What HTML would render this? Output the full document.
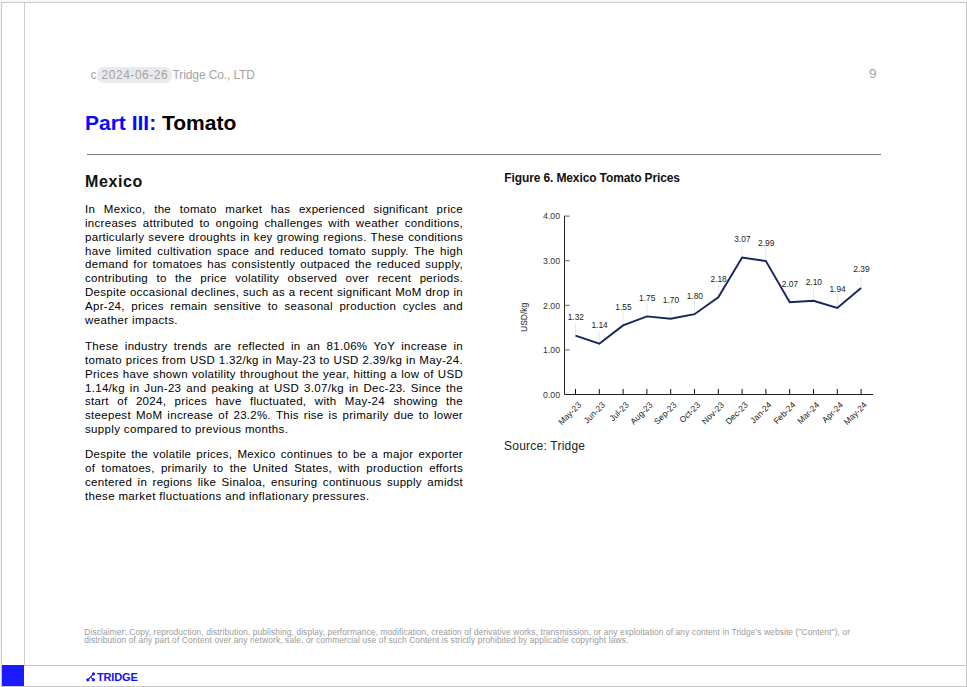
<!DOCTYPE html>
<html>
<head>
<meta charset="utf-8">
<style>
html,body{margin:0;padding:0;}
body{width:967px;height:687px;background:#f7f7f7;position:relative;overflow:hidden;font-family:"Liberation Sans",sans-serif;}
.page{position:absolute;left:1px;top:2px;width:964px;height:683px;border:1px solid #c8c8c8;background:#fff;}
.vline{position:absolute;left:24px;top:3px;width:1px;height:662px;background:#cbd0d8;}
.hline{position:absolute;left:24px;top:665px;width:942px;height:1px;background:#c3c8d0;}
.blue{position:absolute;left:2px;top:665px;width:22px;height:21px;background:#1a1aff;}
.abs{position:absolute;white-space:nowrap;}
.hdr{font-size:12px;line-height:12px;color:#a4a4a4;}
.pill{position:absolute;left:97.4px;top:67.1px;width:74.6px;height:15.8px;background:#e8eaed;border-radius:7px;}
.title{font-size:21px;line-height:21px;font-weight:bold;color:#000;}
.hr{position:absolute;left:87px;top:154px;width:794px;height:1px;background:#7a7a7a;}
.h2{font-size:16px;line-height:16px;font-weight:bold;color:#111;letter-spacing:0.6px;}
.body{position:absolute;left:85px;width:378px;font-size:11.5px;line-height:13.85px;letter-spacing:0.3px;color:#000;}
.body div{text-align:justify;text-align-last:justify;white-space:nowrap;}
.body div.l{text-align:left;text-align-last:left;}
.disc{position:absolute;left:84.3px;font-size:8.4px;line-height:8px;color:#9a9a9a;white-space:nowrap;}
.logo{position:absolute;left:97px;top:672px;font-size:11px;line-height:11px;font-weight:bold;letter-spacing:-0.15px;color:#1010ff;}
</style>
</head>
<body>
<div class="page"></div>
<div class="vline"></div>
<div class="hline"></div>
<div class="blue"></div>

<div class="pill"></div>
<div class="abs hdr" style="left:90.5px;top:69px;">c</div>
<div class="abs hdr" style="left:101.5px;top:69px;letter-spacing:0.54px;">2024-06-26</div>
<div class="abs hdr" style="left:172.6px;top:69px;letter-spacing:-0.12px;">Tridge Co., LTD</div>
<div class="abs hdr" style="left:869.3px;top:68.3px;transform:scaleX(1.12);transform-origin:0 0;">9</div>

<div class="abs title" style="left:85px;top:111.5px;"><span style="color:#0808ff">Part III:</span> Tomato</div>
<div class="hr"></div>

<div class="abs h2" style="left:85px;top:174px;">Mexico</div>

<div class="body" style="top:203px;">
<div>In Mexico, the tomato market has experienced significant price</div>
<div>increases attributed to ongoing challenges with weather conditions,</div>
<div>particularly severe droughts in key growing regions. These conditions</div>
<div>have limited cultivation space and reduced tomato supply. The high</div>
<div>demand for tomatoes has consistently outpaced the reduced supply,</div>
<div>contributing to the price volatility observed over recent periods.</div>
<div>Despite occasional declines, such as a recent significant MoM drop in</div>
<div>Apr-24, prices remain sensitive to seasonal production cycles and</div>
<div class="l" style="letter-spacing:0.37px">weather impacts.</div>
</div>

<div class="body" style="top:340px;">
<div>These industry trends are reflected in an 81.06% YoY increase in</div>
<div>tomato prices from USD 1.32/kg in May-23 to USD 2.39/kg in May-24.</div>
<div>Prices have shown volatility throughout the year, hitting a low of USD</div>
<div>1.14/kg in Jun-23 and peaking at USD 3.07/kg in Dec-23. Since the</div>
<div>start of 2024, prices have fluctuated, with May-24 showing the</div>
<div>steepest MoM increase of 23.2%. This rise is primarily due to lower</div>
<div class="l" style="letter-spacing:0.345px">supply compared to previous months.</div>
</div>

<div class="body" style="top:448px;">
<div>Despite the volatile prices, Mexico continues to be a major exporter</div>
<div>of tomatoes, primarily to the United States, with production efforts</div>
<div>centered in regions like Sinaloa, ensuring continuous supply amidst</div>
<div class="l" style="letter-spacing:0.35px">these market fluctuations and inflationary pressures.</div>
</div>

<div class="abs" style="left:504.3px;top:172px;font-size:12px;line-height:12px;font-weight:bold;letter-spacing:-0.12px;color:#111;">Figure 6. Mexico Tomato Prices</div>
<div class="abs" style="left:504px;top:439.5px;font-size:12px;line-height:12px;letter-spacing:0.23px;color:#222;">Source: Tridge</div>

<!-- CHART START -->
<svg class="abs" style="left:0;top:0;" width="967" height="687" font-family="Liberation Sans, sans-serif">
<g stroke="#e9e9e9" stroke-width="1">
<line x1="575.5" y1="322.6" x2="575.5" y2="335.6"/>
<line x1="599.3" y1="330.7" x2="599.3" y2="343.7"/>
<line x1="623.1" y1="312.4" x2="623.1" y2="325.4"/>
<line x1="646.9" y1="303.4" x2="646.9" y2="316.4"/>
<line x1="670.7" y1="305.7" x2="670.7" y2="318.7"/>
<line x1="694.5" y1="301.2" x2="694.5" y2="314.2"/>
<line x1="718.3" y1="284.3" x2="718.3" y2="297.3"/>
<line x1="742.1" y1="244.6" x2="742.1" y2="257.6"/>
<line x1="765.9" y1="248.1" x2="765.9" y2="261.1"/>
<line x1="789.7" y1="289.2" x2="789.7" y2="302.2"/>
<line x1="813.5" y1="287.8" x2="813.5" y2="300.8"/>
<line x1="837.3" y1="295.0" x2="837.3" y2="308.0"/>
<line x1="861.1" y1="274.9" x2="861.1" y2="287.9"/>
</g>
<g stroke="#222" stroke-width="1" fill="none">
<path d="M564.5 215.6V394.5H873"/>
</g><g stroke="#666" stroke-width="1">
<line x1="564.5" y1="349.9" x2="569.7" y2="349.9"/>
<line x1="564.5" y1="305.3" x2="569.7" y2="305.3"/>
<line x1="564.5" y1="260.7" x2="569.7" y2="260.7"/>
<line x1="564.5" y1="216.1" x2="569.7" y2="216.1"/>
</g><g stroke="#111" stroke-width="1">
<line x1="575.5" y1="389" x2="575.5" y2="394.5"/>
<line x1="599.3" y1="389" x2="599.3" y2="394.5"/>
<line x1="623.1" y1="389" x2="623.1" y2="394.5"/>
<line x1="646.9" y1="389" x2="646.9" y2="394.5"/>
<line x1="670.7" y1="389" x2="670.7" y2="394.5"/>
<line x1="694.5" y1="389" x2="694.5" y2="394.5"/>
<line x1="718.3" y1="389" x2="718.3" y2="394.5"/>
<line x1="742.1" y1="389" x2="742.1" y2="394.5"/>
<line x1="765.9" y1="389" x2="765.9" y2="394.5"/>
<line x1="789.7" y1="389" x2="789.7" y2="394.5"/>
<line x1="813.5" y1="389" x2="813.5" y2="394.5"/>
<line x1="837.3" y1="389" x2="837.3" y2="394.5"/>
<line x1="861.1" y1="389" x2="861.1" y2="394.5"/>
</g>
<g font-size="8.7" fill="#333" text-anchor="end">
<text x="560" y="397.7">0.00</text>
<text x="560" y="353.1">1.00</text>
<text x="560" y="308.5">2.00</text>
<text x="560" y="263.9">3.00</text>
<text x="560" y="219.3">4.00</text>
</g>
<text font-size="8.5" fill="#222" text-anchor="middle" transform="translate(527.2 317.3) rotate(-90) scale(1 1.1)">USD/kg</text>
<polyline points="575.5,335.6 599.3,343.7 623.1,325.4 646.9,316.4 670.7,318.7 694.5,314.2 718.3,297.3 742.1,257.6 765.9,261.1 789.7,302.2 813.5,300.8 837.3,308.0 861.1,287.9" fill="none" stroke="#15265a" stroke-width="1.9" stroke-linejoin="miter"/>
<g font-size="8.4" fill="#222" text-anchor="middle">
<text x="575.8" y="320.0">1.32</text>
<text x="599.6" y="328.1">1.14</text>
<text x="623.4" y="309.8">1.55</text>
<text x="647.2" y="300.8">1.75</text>
<text x="671.0" y="303.1">1.70</text>
<text x="694.8" y="298.6">1.80</text>
<text x="718.6" y="281.7">2.18</text>
<text x="742.4" y="242.0">3.07</text>
<text x="766.2" y="245.5">2.99</text>
<text x="790.0" y="286.6">2.07</text>
<text x="813.8" y="285.2">2.10</text>
<text x="837.6" y="292.4">1.94</text>
<text x="861.4" y="272.3">2.39</text>
</g>
<g font-size="8.5" fill="#222" text-anchor="end">
<text transform="translate(581.8 405.5) rotate(-45)">May-23</text>
<text transform="translate(605.6 405.5) rotate(-45)">Jun-23</text>
<text transform="translate(629.4 405.5) rotate(-45)">Jul-23</text>
<text transform="translate(653.2 405.5) rotate(-45)">Aug-23</text>
<text transform="translate(677.0 405.5) rotate(-45)">Sep-23</text>
<text transform="translate(700.8 405.5) rotate(-45)">Oct-23</text>
<text transform="translate(724.6 405.5) rotate(-45)">Nov-23</text>
<text transform="translate(748.4 405.5) rotate(-45)">Dec-23</text>
<text transform="translate(772.2 405.5) rotate(-45)">Jan-24</text>
<text transform="translate(796.0 405.5) rotate(-45)">Feb-24</text>
<text transform="translate(819.8 405.5) rotate(-45)">Mar-24</text>
<text transform="translate(843.6 405.5) rotate(-45)">Apr-24</text>
<text transform="translate(867.4 405.5) rotate(-45)">May-24</text>
</g>
</svg>
<!-- CHART END -->

<div class="disc" style="top:628.1px;letter-spacing:0.104px;">Disclaimer: Copy, reproduction, distribution, publishing, display, performance, modification, creation of derivative works, transmission, or any exploitation of any content in Tridge's website ("Content"), or</div>
<div class="disc" style="top:636.1px;letter-spacing:0.124px;">distribution of any part of Content over any network, sale, or commercial use of such Content is strictly prohibited by applicable copyright laws.</div>

<svg class="abs" style="left:0;top:0;" width="967" height="687">
<g fill="#1a1aff" stroke="#1a1aff">
<line x1="87.8" y1="679.8" x2="93.5" y2="673.8" stroke-width="1.1"/>
<line x1="90.7" y1="676.9" x2="93.5" y2="679.8" stroke-width="1.1"/>
<circle cx="87.8" cy="679.8" r="1.6" stroke="none"/>
<circle cx="93.5" cy="673.8" r="1.6" stroke="none"/>
<circle cx="93.5" cy="679.8" r="1.6" stroke="none"/>
</g>
</svg>
<div class="logo">TRIDGE</div>
</body>
</html>
